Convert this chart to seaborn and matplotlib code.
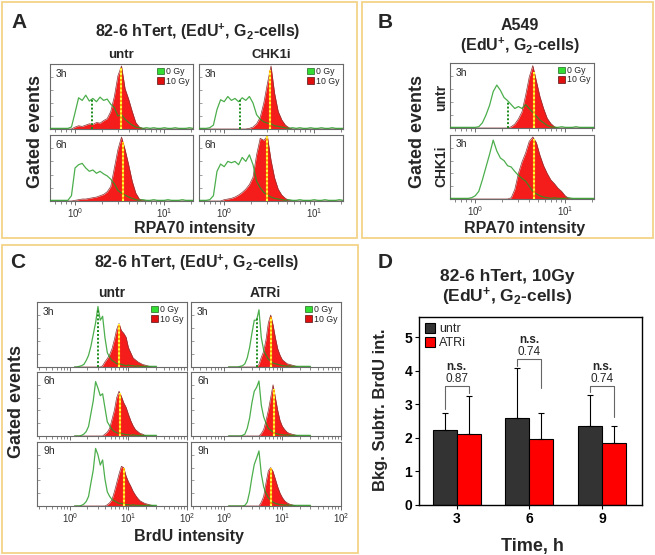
import numpy as np
import pandas as pd
import matplotlib
matplotlib.use("Agg")
import matplotlib.pyplot as plt
import seaborn as sns
from matplotlib.patches import Rectangle, Patch
from matplotlib.ticker import NullFormatter

sns.set_theme(style="ticks")
plt.rcParams["font.family"] = ["Liberation Sans", "DejaVu Sans"]
plt.rcParams["mathtext.fontset"] = "custom"
plt.rcParams["mathtext.rm"] = "Liberation Sans"
plt.rcParams["mathtext.bf"] = "Liberation Sans:bold"
plt.rcParams["mathtext.it"] = "Liberation Sans:italic"
plt.rcParams["mathtext.sf"] = "Liberation Sans"

# ---------------- data ----------------
# log10 bin centres of the flow histograms
rpa_log_bins = -0.28 + 0.04 * np.arange(41)
brdu_log_bins = 0.08 + 0.04 * np.arange(36)

# Panel A  (82-6 hTert, RPA70) -- normalised event counts
a_untr_3h_0gy = [0.01, 0.01, 0.01, 0.01, 0.01, 0.01,
                 0.03, 0.25, 0.48, 0.44, 0.52, 0.43, 0.47, 0.42, 0.49, 0.44, 0.46, 0.38, 0.33, 0.20, 0.22, 0.15, 0.10, 0.06, 0.03,
                 0.02, 0.01, 0.02, 0.01, 0.02, 0.01, 0.01, 0.02, 0.01, 0.01, 0.02, 0.01, 0.01, 0.01, 0.02, 0.01]
a_untr_3h_10gy = [0, 0, 0, 0, 0, 0, 0,
                  0.03, 0.05, 0.04, 0.06, 0.08, 0.07, 0.10, 0.09, 0.13, 0.16, 0.27, 0.50, 0.82, 0.97, 0.62, 0.46, 0.27, 0.10, 0.03, 0.01,
                  0, 0, 0, 0, 0, 0, 0, 0, 0, 0, 0, 0, 0, 0]
a_untr_6h_0gy = [0.01, 0.01, 0.01, 0.01, 0.01, 0.01,
                 0.08, 0.50, 0.55, 0.57, 0.50, 0.45, 0.47, 0.42, 0.45, 0.41, 0.38, 0.33, 0.26, 0.16, 0.12, 0.09, 0.06, 0.04, 0.02,
                 0.01, 0.02, 0.01, 0.01, 0.02, 0.01, 0.01, 0.01, 0.02, 0.01, 0.01, 0.01, 0.02, 0.01, 0.01, 0.01]
a_untr_6h_10gy = [0, 0, 0, 0, 0, 0, 0,
                  0.01, 0.02, 0.03, 0.03, 0.04, 0.05, 0.06, 0.08, 0.10, 0.14, 0.22, 0.50, 0.78, 0.97, 0.78, 0.55, 0.30, 0.12, 0.03, 0.01,
                  0, 0, 0, 0, 0, 0, 0, 0, 0, 0, 0, 0, 0, 0]
a_chk_3h_0gy = [0.01, 0.01, 0.01,
                0.02, 0.06, 0.30, 0.45, 0.42, 0.50, 0.44, 0.47, 0.42, 0.48, 0.44, 0.50, 0.40, 0.22, 0.15, 0.11, 0.09, 0.08, 0.05, 0.04, 0.03, 0.02,
                0.01, 0.02, 0.01, 0.02, 0.01, 0.01, 0.02, 0.01, 0.01, 0.02, 0.01, 0.01, 0.02, 0.01, 0.01, 0.01]
a_chk_3h_10gy = [0, 0, 0, 0, 0, 0, 0, 0, 0, 0, 0, 0, 0, 0,
                 0.01, 0.03, 0.08, 0.18, 0.40, 0.70, 0.97, 0.55, 0.27, 0.14, 0.06, 0.02,
                 0, 0, 0, 0, 0, 0, 0, 0, 0, 0, 0, 0, 0, 0, 0]
a_chk_6h_0gy = [0.01, 0.01, 0.01,
                0.02, 0.08, 0.45, 0.56, 0.52, 0.60, 0.58, 0.60, 0.55, 0.66, 0.60, 0.70, 0.55, 0.30, 0.20, 0.13, 0.09, 0.06, 0.04, 0.03, 0.02,
                0.01, 0.02, 0.01, 0.01, 0.02, 0.01, 0.01, 0.01, 0.02, 0.01, 0.01, 0.02, 0.01, 0.01, 0.01, 0.02, 0.01]
a_chk_6h_10gy = [0, 0, 0, 0, 0, 0, 0,
                 0.02, 0.03, 0.04, 0.06, 0.09, 0.13, 0.18, 0.25, 0.36, 0.70, 0.95, 0.92, 0.98, 0.62, 0.35, 0.18, 0.09, 0.04, 0.01,
                 0, 0, 0, 0, 0, 0, 0, 0, 0, 0, 0, 0, 0, 0, 0]

# Panel B  (A549, RPA70)
b_untr_0gy = [0.01, 0.01, 0.01, 0.01, 0.01, 0.01, 0.01, 0.01,
              0.02, 0.08, 0.20, 0.35, 0.56, 0.66, 0.58, 0.47, 0.42, 0.36, 0.30, 0.33, 0.30, 0.36, 0.30, 0.24, 0.18, 0.12, 0.08, 0.04, 0.02,
              0.01, 0.01, 0.02, 0.01, 0.01, 0.01, 0.02, 0.01, 0.01, 0.01, 0.01, 0.01]
b_untr_10gy = [0, 0, 0, 0, 0, 0, 0, 0, 0, 0, 0, 0, 0, 0, 0, 0, 0,
               0.02, 0.06, 0.14, 0.25, 0.50, 0.78, 0.96, 0.72, 0.48, 0.30, 0.15, 0.07, 0.02,
               0, 0, 0, 0, 0, 0, 0, 0, 0, 0, 0]
b_chk_0gy = [0.01, 0.01, 0.01, 0.01, 0.01, 0.01,
             0.02, 0.05, 0.12, 0.30, 0.50, 0.70, 0.92, 0.75, 0.64, 0.60, 0.52, 0.50, 0.43, 0.37, 0.32, 0.28, 0.20, 0.12, 0.08, 0.05, 0.03, 0.02,
             0.01, 0.02, 0.01, 0.01, 0.01, 0.02, 0.01, 0.01, 0.01, 0.01, 0.01, 0.01, 0.01]
b_chk_10gy = [0, 0, 0, 0, 0, 0, 0, 0, 0, 0, 0, 0, 0, 0, 0, 0, 0,
              0.02, 0.15, 0.40, 0.58, 0.72, 0.90, 0.97, 0.88, 0.68, 0.52, 0.40, 0.30, 0.24, 0.17, 0.12, 0.05, 0.01,
              0, 0, 0, 0, 0, 0, 0]

# Panel C  (82-6 hTert, BrdU)
c_untr_3h_0gy = [0.00, 0.00, 0.01, 0.02, 0.04, 0.10, 0.18, 0.32, 0.50, 0.68, 0.93, 0.72, 0.78, 0.45, 0.22, 0.15, 0.10, 0.08, 0.05, 0.05, 0.04, 0.03,
                 0.02, 0.03, 0.02, 0.02, 0.01, 0.02, 0.01, 0.01, 0.01, 0.01, 0.01, 0.01, 0.01, 0.01]
c_untr_3h_10gy = [0, 0, 0, 0, 0, 0, 0, 0, 0, 0, 0, 0,
                  0.02, 0.08, 0.13, 0.19, 0.28, 0.42, 0.58, 0.67, 0.56, 0.52, 0.46, 0.30, 0.22, 0.14, 0.11, 0.08, 0.06, 0.04, 0.03, 0.02, 0.01,
                  0, 0, 0]
c_untr_6h_0gy = [0, 0, 0, 0.01, 0.03, 0.07, 0.15, 0.35, 0.55, 0.85, 0.75, 0.63, 0.66, 0.44, 0.22, 0.16, 0.10, 0.07, 0.05, 0.04, 0.04,
                 0.03, 0.02, 0.02, 0.01, 0.02, 0.01, 0.01, 0.01, 0.01, 0.01, 0.01, 0.01, 0.01, 0.01, 0.01]
c_untr_6h_10gy = [0, 0, 0, 0, 0, 0, 0, 0, 0, 0, 0, 0, 0,
                  0.03, 0.06, 0.12, 0.26, 0.40, 0.60, 0.70, 0.62, 0.52, 0.45, 0.34, 0.24, 0.16, 0.10, 0.07, 0.04, 0.03, 0.01,
                  0, 0, 0, 0, 0]
c_untr_9h_0gy = [0, 0, 0, 0.01, 0.03, 0.07, 0.15, 0.36, 0.56, 0.90, 0.80, 0.64, 0.72, 0.42, 0.22, 0.15, 0.10, 0.08, 0.06, 0.04, 0.04,
                 0.03, 0.02, 0.02, 0.01, 0.02, 0.01, 0.01, 0.01, 0.01, 0.01, 0.01, 0.01, 0.01, 0.01, 0.01]
c_untr_9h_10gy = [0, 0, 0, 0, 0, 0, 0, 0, 0, 0, 0, 0, 0, 0,
                  0.02, 0.05, 0.10, 0.22, 0.36, 0.50, 0.62, 0.60, 0.47, 0.38, 0.31, 0.23, 0.17, 0.12, 0.08, 0.06, 0.04, 0.03, 0.02, 0.01,
                  0, 0]
c_atr_3h_0gy = [0, 0, 0, 0, 0, 0.01, 0.02, 0.05, 0.14, 0.30, 0.52, 0.72, 0.72, 0.88, 0.45, 0.26, 0.18, 0.12, 0.09, 0.06, 0.05, 0.04, 0.03, 0.02,
                0.02, 0.01, 0.02, 0.01, 0.01, 0.01, 0.01, 0.01, 0.01, 0.01, 0.01, 0.01]
c_atr_3h_10gy = [0, 0, 0, 0, 0, 0, 0, 0, 0, 0, 0, 0, 0,
                 0.04, 0.15, 0.24, 0.42, 0.68, 0.80, 0.65, 0.45, 0.28, 0.18, 0.11, 0.08, 0.05, 0.04, 0.03, 0.02, 0.01,
                 0, 0, 0, 0, 0, 0]
c_atr_6h_0gy = [0, 0, 0, 0, 0, 0, 0.01, 0.03, 0.12, 0.28, 0.52, 0.70, 0.76, 0.86, 0.48, 0.30, 0.20, 0.12, 0.09, 0.06, 0.04, 0.03,
                0.02, 0.02, 0.01, 0.02, 0.01, 0.01, 0.01, 0.01, 0.01, 0.01, 0.01, 0.01, 0.01, 0.01]
c_atr_6h_10gy = [0, 0, 0, 0, 0, 0, 0, 0, 0, 0, 0, 0, 0, 0,
                 0.04, 0.10, 0.24, 0.40, 0.60, 0.80, 0.60, 0.40, 0.24, 0.15, 0.10, 0.06, 0.04, 0.03, 0.02, 0.01,
                 0, 0, 0, 0, 0, 0]
c_atr_9h_0gy = [0, 0, 0, 0, 0, 0, 0, 0.01, 0.06, 0.22, 0.45, 0.65, 0.75, 0.86, 0.50, 0.30, 0.20, 0.13, 0.09, 0.06, 0.04, 0.03,
                0.02, 0.02, 0.01, 0.02, 0.01, 0.01, 0.01, 0.01, 0.01, 0.01, 0.01, 0.01, 0.01, 0.01]
c_atr_9h_10gy = [0, 0, 0, 0, 0, 0, 0, 0, 0, 0, 0, 0, 0, 0,
                 0.06, 0.15, 0.36, 0.55, 0.60, 0.54, 0.42, 0.30, 0.20, 0.13, 0.08, 0.05, 0.03, 0.02, 0.01,
                 0, 0, 0, 0, 0, 0, 0]

# medians (intensity units) marked by dotted lines
a_med_10gy = [3.24, 3.44, 3.24, 3.02]      # untr 3h, untr 6h, CHK1i 3h, CHK1i 6h
a_med_0gy = [1.53, None, 1.51, None]
b_med_10gy = [4.52, 4.52]                  # untr, CHK1i
b_med_0gy = [2.29, None]
c_med_10gy = [6.86, 7.13, 8.32, 6.43, 7.13, 6.27]   # untr 3/6/9h, ATRi 3/6/9h
c_med_0gy = [3.06, None, None, 3.72, None, None]

# Panel D bar chart
times = ["3", "6", "9"]
conditions = ["untr", "ATRi"]
untr_mean = [2.23, 2.60, 2.35]
atri_mean = [2.11, 1.96, 1.84]
untr_err = [0.50, 1.47, 0.92]
atri_err = [1.13, 0.78, 0.52]
p_values = ["0.87", "0.74", "0.74"]
bracket_top = [3.54, 4.35, 3.54]
bracket_left_end = [2.86, 4.15, 3.37]
bracket_right_end = [3.33, 3.48, 2.62]

# ---------------- figure ----------------
W, H = 655, 555
fig = plt.figure(figsize=(W / 100, H / 100), dpi=100)
fig.patch.set_facecolor("white")

def add_px(x0, y0, x1, y1):
    return fig.add_axes([x0 / W, 1 - y1 / H, (x1 - x0) / W, (y1 - y0) / H])

def ftext(x, y, s, **kw):
    kw.setdefault("ha", "center")
    kw.setdefault("va", "center")
    fig.text(x / W, 1 - y / H, s, **kw)

def border(x0, y0, x1, y1):
    fig.add_artist(Rectangle((x0 / W, 1 - y1 / H), (x1 - x0) / W, (y1 - y0) / H,
                             transform=fig.transFigure, fill=False,
                             edgecolor="#f2d388", lw=1.3))

RED = "#f51c1c"
GREEN = "#1f9a1f"

def draw_hist(ax, log_bins, g, r, med_r, med_g, xlim, tlabel, legend, bottom):
    ax.set_xscale("log")
    x = 10 ** np.asarray(log_bins)
    g = np.asarray(g, dtype=float)
    r = np.asarray(r, dtype=float)
    ax.fill_between(x, 0, r, color=RED, lw=0, zorder=1)
    sns.lineplot(x=x, y=r, ax=ax, color="#8a3232", lw=0.5, zorder=2, sort=False)
    sns.lineplot(x=x, y=g, ax=ax, color=GREEN, lw=0.9, alpha=0.8, zorder=3, sort=False)
    h = np.interp(np.log10(med_r), log_bins, r)
    ax.plot([med_r, med_r], [0, h], color="#ff9a00", lw=1.5, zorder=4, solid_capstyle="butt")
    ax.plot([med_r, med_r], [0, h], color="#ffff3c", lw=1.5, ls=(0, (1, 1)), zorder=5)
    if med_g is not None:
        hg = np.interp(np.log10(med_g), log_bins, g)
        ax.plot([med_g, med_g], [0, hg], color="#1a8a1a", lw=1.4, ls=(0, (1, 1)), zorder=4)
    ax.set_xlim(*xlim)
    ax.set_ylim(0, 1.0)
    ax.set_xlabel("")
    ax.set_ylabel("")
    for s in ax.spines.values():
        s.set_color("#6a6a6a")
        s.set_linewidth(0.8)
        s.set_visible(True)
    ax.set_yticks([0.2, 0.4, 0.6, 0.8])
    ax.tick_params(axis="y", direction="in", length=2, width=0.5, color="#777777",
                   left=True, labelleft=False)
    ax.tick_params(axis="x", which="major", direction="out", length=3, width=0.6,
                   color="#555555", labelsize=7, labelcolor="#333333", pad=1.0,
                   bottom=True, labelbottom=bottom)
    ax.tick_params(axis="x", which="minor", direction="out", length=1.8, width=0.5,
                   color="#555555", bottom=True)
    ax.xaxis.set_minor_formatter(NullFormatter())
    ax.text(0.04, 0.93, tlabel, transform=ax.transAxes, ha="left", va="top", fontsize=7.5)
    if legend:
        handles = [Patch(facecolor="#33dd33", edgecolor="#226622", lw=0.5, label="0 Gy"),
                   Patch(facecolor="#e01010", edgecolor="#551111", lw=0.5, label="10 Gy")]
        ax.legend(handles=handles, loc="upper right", fontsize=6.3, frameon=False,
                  handlelength=0.8, handleheight=0.8, handletextpad=0.25,
                  labelspacing=0.05, borderaxespad=0.25, borderpad=0.1)

rpa_xlim = (10 ** -0.28, 10 ** 1.32)
brdu_xlim = (10 ** -0.56, 10 ** 2.0)

# ---- Panel A ----
border(2, 2, 357, 238)
ftext(19, 22, "A", fontsize=15, fontweight="bold")
ftext(198, 32, r"82-6 hTert, (EdU$^{\mathbf{+}}$, G$_{\mathbf{2}}$-cells)", fontsize=11.5, fontweight="bold")
ftext(121, 55, "untr", fontsize=9.5, fontweight="bold")
ftext(271, 55, "CHK1i", fontsize=9.5, fontweight="bold")
ftext(35, 132, "Gated events", fontsize=13, fontweight="bold", rotation=90)
ftext(195, 229, "RPA70 intensity", fontsize=11.5, fontweight="bold")

a_sets = [(a_untr_3h_0gy, a_untr_3h_10gy, "3h"), (a_untr_6h_0gy, a_untr_6h_10gy, "6h"),
          (a_chk_3h_0gy, a_chk_3h_10gy, "3h"), (a_chk_6h_0gy, a_chk_6h_10gy, "6h")]
a_boxes = [(50, 64, 193, 129), (50, 135, 193, 201), (199, 64, 343, 129), (199, 135, 343, 201)]
for k, ((g, r, tl), box) in enumerate(zip(a_sets, a_boxes)):
    ax = add_px(*box)
    draw_hist(ax, rpa_log_bins, g, r, a_med_10gy[k], a_med_0gy[k], rpa_xlim, tl,
              legend=(k % 2 == 0), bottom=(k % 2 == 1))

# ---- Panel B ----
border(362, 2, 653, 238)
ftext(385, 22, "B", fontsize=15, fontweight="bold")
ftext(520, 25, "A549", fontsize=11.5, fontweight="bold")
ftext(520, 46, r"(EdU$^{\mathbf{+}}$, G$_{\mathbf{2}}$-cells)", fontsize=11.5, fontweight="bold")
ftext(418, 132, "Gated events", fontsize=13, fontweight="bold", rotation=90)
ftext(441, 97, "untr", fontsize=10, fontweight="bold", rotation=90)
ftext(441, 166, "CHK1i", fontsize=10, fontweight="bold", rotation=90)
ftext(525, 229, "RPA70 intensity", fontsize=11.5, fontweight="bold")
b_sets = [(b_untr_0gy, b_untr_10gy), (b_chk_0gy, b_chk_10gy)]
b_boxes = [(450, 63, 594, 128), (450, 135, 594, 199)]
for k, ((g, r), box) in enumerate(zip(b_sets, b_boxes)):
    ax = add_px(*box)
    draw_hist(ax, rpa_log_bins, g, r, b_med_10gy[k], b_med_0gy[k], rpa_xlim, "3h",
              legend=(k == 0), bottom=(k == 1))

# ---- Panel C ----
border(2, 245, 358, 553)
ftext(18, 262, "C", fontsize=15, fontweight="bold")
ftext(197, 263, r"82-6 hTert, (EdU$^{\mathbf{+}}$, G$_{\mathbf{2}}$-cells)", fontsize=11.5, fontweight="bold")
ftext(112, 293, "untr", fontsize=10, fontweight="bold")
ftext(265, 293, "ATRi", fontsize=10, fontweight="bold")
ftext(17, 402, "Gated events", fontsize=13, fontweight="bold", rotation=90)
ftext(189, 537, "BrdU intensity", fontsize=11.5, fontweight="bold")
c_sets = [(c_untr_3h_0gy, c_untr_3h_10gy), (c_untr_6h_0gy, c_untr_6h_10gy), (c_untr_9h_0gy, c_untr_9h_10gy),
          (c_atr_3h_0gy, c_atr_3h_10gy), (c_atr_6h_0gy, c_atr_6h_10gy), (c_atr_9h_0gy, c_atr_9h_10gy)]
c_rows = [(302, 367), (372, 436), (442, 506)]
c_cols = [(37, 187), (191, 341)]
c_tlabels = ["3h", "6h", "9h"]
for k, (g, r) in enumerate(c_sets):
    col, row = divmod(k, 3)
    ax = add_px(c_cols[col][0], c_rows[row][0], c_cols[col][1], c_rows[row][1])
    draw_hist(ax, brdu_log_bins, g, r, c_med_10gy[k], c_med_0gy[k], brdu_xlim, c_tlabels[row],
              legend=(row == 0), bottom=(row == 2))

# ---- Panel D ----
ftext(385, 262, "D", fontsize=15, fontweight="bold")
ftext(507, 277, "82-6 hTert, 10Gy", fontsize=12.5, fontweight="bold")
ftext(507, 297, r"(EdU$^{\mathbf{+}}$, G$_{\mathbf{2}}$-cells)", fontsize=12.5, fontweight="bold")
axD = add_px(419, 317, 642, 505)
df = pd.DataFrame({"time": times * 2,
                   "cond": [conditions[0]] * 3 + [conditions[1]] * 3,
                   "value": untr_mean + atri_mean})
sns.barplot(data=df, x="time", y="value", hue="cond", hue_order=conditions,
            palette=["#333333", "#ff0000"], saturation=1, edgecolor="black",
            linewidth=0.8, errorbar=None, width=0.66, gap=0, ax=axD)
bars = sorted([p for p in axD.patches if p.get_height() > 0], key=lambda p: p.get_x())
errs = [e for pair in zip(untr_err, atri_err) for e in pair]
centers = []
for b, e in zip(bars, errs):
    cx = b.get_x() + b.get_width() / 2
    centers.append(cx)
    axD.errorbar([cx], [b.get_height()], yerr=[[0], [e]], fmt="none", ecolor="black",
                 elinewidth=0.8, capsize=2.5, capthick=0.8, zorder=3)
for i in range(3):
    xl, xr = centers[2 * i], centers[2 * i + 1]
    top = bracket_top[i]
    axD.plot([xl, xl, xr, xr], [bracket_left_end[i], top, top, bracket_right_end[i]],
             color="#666666", lw=0.8, zorder=2)
    xm = (xl + xr) / 2
    axD.text(xm, top + 0.57, "n.s.", ha="center", va="center", fontsize=8.5, fontweight="bold")
    axD.text(xm, top + 0.21, p_values[i], ha="center", va="center", fontsize=8.5)
axD.set_xlim(-0.52, 2.55)
axD.set_ylim(0, 5.6)
axD.set_yticks([0, 1, 2, 3, 4, 5])
axD.set_xlabel("")
axD.set_ylabel("")
for s in axD.spines.values():
    s.set_visible(True)
    s.set_color("black")
    s.set_linewidth(1.0)
axD.tick_params(axis="both", direction="out", length=3, width=0.8, labelsize=10, pad=2,
                left=True, bottom=True, colors="black")
for lab in axD.get_xticklabels() + axD.get_yticklabels():
    lab.set_fontweight("bold")
hdl, lbl = axD.get_legend_handles_labels()
axD.legend(hdl, lbl, loc="upper left", frameon=False, fontsize=9, handlelength=0.8,
           handleheight=0.8, handletextpad=0.3, labelspacing=0.15, borderaxespad=0.3,
           borderpad=0.2)
ftext(381, 410, "Bkg. Subtr. BrdU int.", fontsize=12, fontweight="bold", rotation=90)
ftext(532, 547, "Time, h", fontsize=13, fontweight="bold")

fig.savefig("out.png", dpi=100)
